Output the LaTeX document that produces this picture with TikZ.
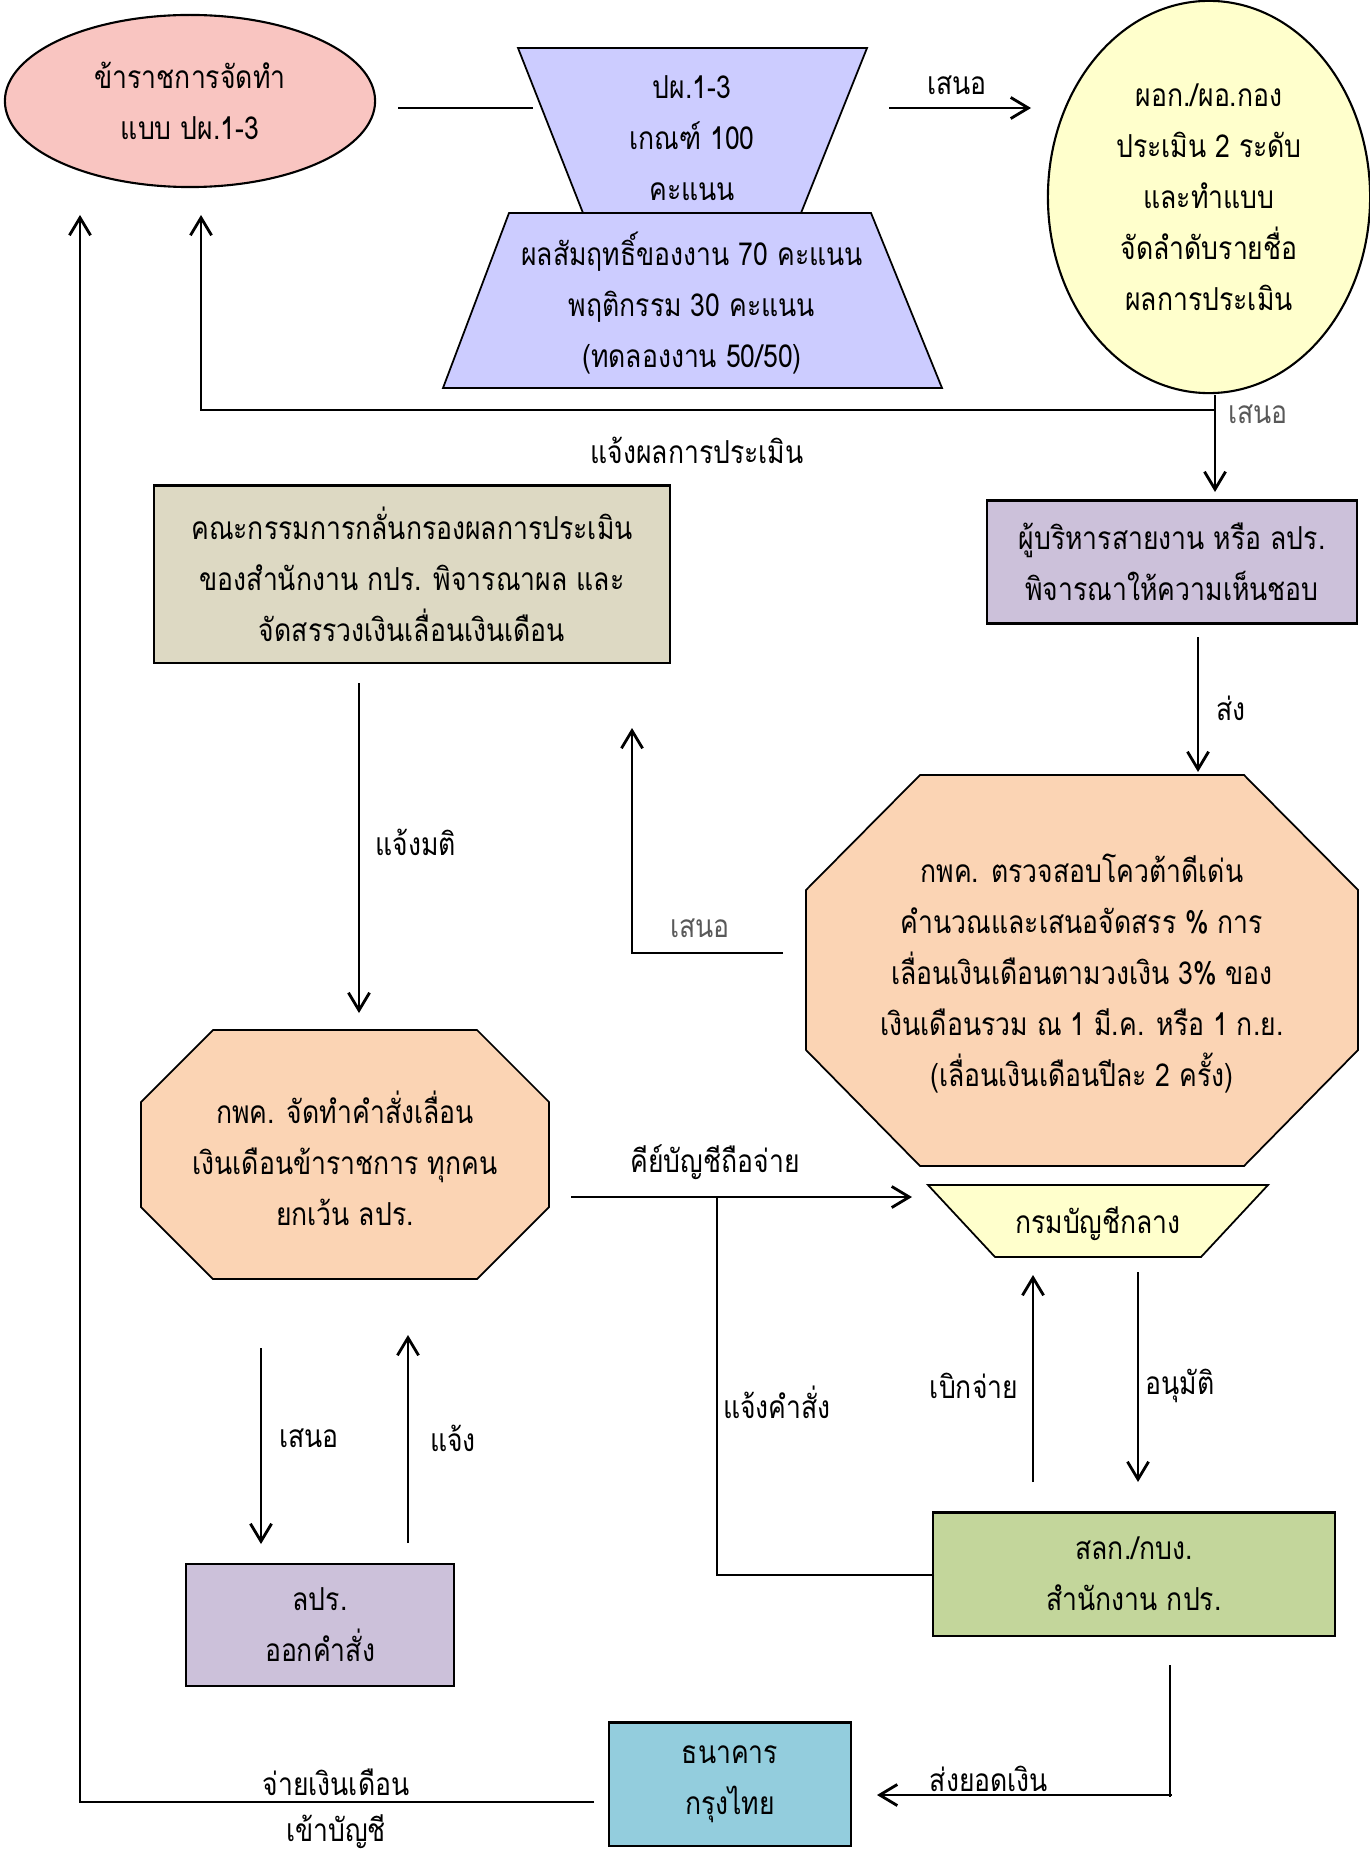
\documentclass[tikz,border=0pt]{standalone}
\usepackage{fontspec}
\setmainfont[Script=Thai, FakeStretch=0.84]{Loma}
\usetikzlibrary{arrows.meta,positioning,shapes.geometric}
\definecolor{staffpink}{RGB}{249,197,193}
\definecolor{formlav}{RGB}{204,204,255}
\definecolor{headyellow}{RGB}{255,255,204}
\definecolor{boardkhaki}{RGB}{221,217,195}
\definecolor{execlav}{RGB}{204,193,218}
\definecolor{quotapeach}{RGB}{251,212,180}
\definecolor{officegreen}{RGB}{195,214,155}
\definecolor{bankblue}{RGB}{147,205,221}

\begin{document}
\begin{tikzpicture}[x=0.01cm, y=-0.01cm,
    every node/.style={font=\fontsize{9}{14.5}\selectfont},
    box/.style={draw, line width=0.6pt, fill=#1, align=center, inner sep=0pt},
    shp/.style={draw, line width=0.5pt, fill=#1},
    txt/.style={align=center, inner sep=0pt},
    lbl/.style={inner sep=1pt},
    arr/.style={-{Straight Barb[length=5pt,width=6pt]}, line width=0.8pt},
    ln/.style={line width=0.8pt}
]
\useasboundingbox (0,0) rectangle (1369,1852);

% top row
\node[box=staffpink, ellipse, minimum width=3.70cm, minimum height=1.72cm] (staff) at (190,101) {ข้าราชการจัดทำ\\แบบ ปผ.1-3};
\path[shp=formlav] (518,48) -- (867,48) -- (801,213) -- (583,213) -- cycle;
\node[txt] (form) at (692,138) {ปผ.1-3\\เกณฑ์ 100\\คะแนน};
\path[shp=formlav] (509,213) -- (871,213) -- (942,388) -- (443,388) -- cycle;
\node[txt] (score) at (692,303) {ผลสัมฤทธิ์ของงาน 70 คะแนน\\พฤติกรรม 30 คะแนน\\(ทดลองงาน 50/50)};
\node[box=headyellow, ellipse, minimum width=3.22cm, minimum height=3.92cm] (head) at (1209,197) {ผอก./ผอ.กอง\\ประเมิน 2 ระดับ\\และทำแบบ\\จัดลำดับรายชื่อ\\ผลการประเมิน};

% middle
\node[box=execlav, minimum width=3.69cm, minimum height=1.23cm] (exec) at (1172,562) {ผู้บริหารสายงาน หรือ ลปร.\\พิจารณาให้ความเห็นชอบ};
\node[box=boardkhaki, minimum width=5.15cm, minimum height=1.77cm] (board) at (412,574) {คณะกรรมการกลั่นกรองผลการประเมิน\\ของสำนักงาน กปร. พิจารณาผล และ\\จัดสรรวงเงินเลื่อนเงินเดือน};
\path[shp=quotapeach] (920,775) -- (1244,775) -- (1358,890) -- (1358,1050) -- (1244,1166) -- (920,1166) -- (806,1050) -- (806,890) -- cycle;
\node[txt] (quota) at (1082,974) {กพค. ตรวจสอบโควต้าดีเด่น\\คำนวณและเสนอจัดสรร \% การ\\เลื่อนเงินเดือนตามวงเงิน 3\% ของ\\เงินเดือนรวม ณ 1 มี.ค. หรือ 1 ก.ย.\\(เลื่อนเงินเดือนปีละ 2 ครั้ง)};
\path[shp=quotapeach] (213,1030) -- (477,1030) -- (549,1102) -- (549,1207) -- (477,1279) -- (213,1279) -- (141,1207) -- (141,1102) -- cycle;
\node[txt] (order) at (345,1158) {กพค. จัดทำคำสั่งเลื่อน\\เงินเดือนข้าราชการ ทุกคน\\ยกเว้น ลปร.};
\path[shp=headyellow] (928,1185) -- (1268,1185) -- (1201,1257) -- (995,1257) -- cycle;
\node[txt] (cgd) at (1098,1224) {กรมบัญชีกลาง};

% bottom
\node[box=execlav, minimum width=2.68cm, minimum height=1.22cm] (lpr) at (320,1625) {ลปร.\\ออกคำสั่ง};
\node[box=officegreen, minimum width=4.01cm, minimum height=1.23cm] (office) at (1134,1574) {สลก./กบง.\\สำนักงาน กปร.};
\node[box=bankblue, minimum width=2.42cm, minimum height=1.23cm] (bank) at (730,1784) {ธนาคาร\\กรุงไทย};

% connector ends
\coordinate (staffR) at (398,108);
\coordinate (formL) at (533,108);
\coordinate (formR) at (889,108);
\coordinate (headL) at (1031,108);
\coordinate (headS) at (1215,395);
\coordinate (headJ) at (1215,410);
\coordinate (execN) at (1215,492);
\coordinate (staffJ) at (201,410);
\coordinate (staffS) at (201,215);
\coordinate (staffSW) at (80,215);
\coordinate (payJ) at (80,1802);
\coordinate (bankW) at (594,1802);
\coordinate (boardS) at (359,683);
\coordinate (orderN) at (359,1013);
\coordinate (quotaW) at (783,953);
\coordinate (quotaJ) at (632,953);
\coordinate (boardE) at (632,728);
\coordinate (execS) at (1198,637);
\coordinate (quotaN) at (1198,772);
\coordinate (orderE) at (571,1197);
\coordinate (cgdW) at (912,1197);
\coordinate (keyJ) at (717,1197);
\coordinate (officeJ) at (717,1575);
\coordinate (officeW) at (934,1575);
\coordinate (drawB) at (1033,1482);
\coordinate (drawT) at (1033,1275);
\coordinate (okT) at (1138,1272);
\coordinate (okB) at (1138,1482);
\coordinate (officeS) at (1170,1665);
\coordinate (sendJ) at (1170,1797);
\coordinate (sendR) at (1172,1795);
\coordinate (bankE) at (877,1795);
\coordinate (orderS) at (261,1348);
\coordinate (lprN) at (261,1544);
\coordinate (lprUp) at (408,1543);
\coordinate (orderUp) at (408,1335);

% connectors
\draw[ln] (staffR) -- (formL);
\draw[arr] (formR) -- (headL);
\draw[arr] (headS) -- (execN);
\draw[arr] (headJ) -- (staffJ) -- (staffS);
\draw[arr] (bankW) -- (payJ) -- (staffSW);
\draw[arr] (boardS) -- (orderN);
\draw[arr] (quotaW) -- (quotaJ) -- (boardE);
\draw[arr] (execS) -- (quotaN);
\draw[arr] (orderE) -- (cgdW);
\draw[line width=0.5pt] (officeW) -- (officeJ) -- (keyJ);
\draw[arr] (drawB) -- (drawT);
\draw[arr] (okT) -- (okB);
\draw[ln] (officeS) -- (sendJ);
\draw[arr] (sendR) -- (bankE);
\draw[arr] (orderS) -- (lprN);
\draw[arr] (lprUp) -- (orderUp);

% labels
\node[lbl] (l1) at (957,85) {เสนอ};
\node[lbl, text=black!65] (l2) at (1258,414) {เสนอ};
\node[lbl] (l3) at (697,450) {แจ้งผลการประเมิน};
\node[lbl] (l4) at (1231,708) {ส่ง};
\node[lbl] (l5) at (416,842) {แจ้งมติ};
\node[lbl, text=black!65] (l6) at (700,928) {เสนอ};
\node[lbl] (l7) at (715,1162) {คีย์บัญชีถือจ่าย};
\node[lbl] (l8) at (777,1402) {แจ้งคำสั่ง};
\node[lbl] (l9) at (974,1386) {เบิกจ่าย};
\node[lbl] (l10) at (1180,1386) {อนุมัติ};
\node[lbl] (l11) at (309,1438) {เสนอ};
\node[lbl] (l12) at (453,1438) {แจ้ง};
\node[lbl] (l13) at (989,1779) {ส่งยอดเงิน};
\node[lbl] (l14) at (336,1782) {จ่ายเงินเดือน};
\node[lbl] (l15) at (336,1832) {เข้าบัญชี};
\end{tikzpicture}
\end{document}
